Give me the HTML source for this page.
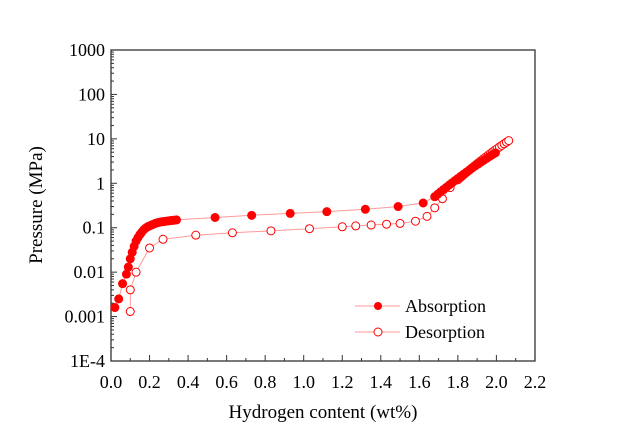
<!DOCTYPE html>
<html><head><meta charset="utf-8"><style>
html,body{margin:0;padding:0;background:#fff;}
svg text{font-family:"Liberation Serif",serif;fill:#000;}
</style></head><body>
<svg id="s" width="622" height="433" viewBox="0 0 622 433" xmlns="http://www.w3.org/2000/svg">
<rect x="111" y="50" width="424" height="311" fill="none" stroke="#333" stroke-width="1.3"/>
<g id="ax"></g>
<g id="dat"></g>
<text x="42" y="205" font-size="19" text-anchor="middle" transform="rotate(-90 42 205)">Pressure (MPa)</text>
<text x="323" y="418" font-size="19" text-anchor="middle">Hydrogen content (wt%)</text>
<line x1="355" y1="306" x2="400" y2="306" stroke="#f99" stroke-width="1"/>
<circle cx="378" cy="306" r="4" fill="#f00"/>
<text x="405" y="312" font-size="18">Absorption</text>
<line x1="355" y1="332" x2="400" y2="332" stroke="#f99" stroke-width="1"/>
<circle cx="378" cy="332" r="4" fill="#fff" stroke="#f00"/>
<text x="405" y="338" font-size="18">Desorption</text>
</svg>
<script>
var NS="http://www.w3.org/2000/svg";
function X(w){return 111+w*192.7;}
function Y(p){return 50+(3-Math.log10(p))*44.43;}
function el(t,a,par,txt){var e=document.createElementNS(NS,t);for(var k in a)e.setAttribute(k,a[k]);if(txt)e.textContent=txt;par.appendChild(e);return e;}
var ax=document.getElementById('ax');
for(var i=0;i<=22;i++){var w=i/10,x=X(w),maj=i%2==0;
 el('line',{x1:x,y1:361,x2:x,y2:maj?355:358,stroke:'#333','stroke-width':1},ax);
 if(maj)el('text',{x:x,y:388,'font-size':18,'text-anchor':'middle'},ax,w.toFixed(1));}
var labs=['1E-4','0.001','0.01','0.1','1','10','100','1000'];
for(var d=-4;d<=3;d++){var y=Y(Math.pow(10,d));
 el('line',{x1:111,y1:y,x2:117,y2:y,stroke:'#333','stroke-width':1},ax);
 el('text',{x:105,y:y+6,'font-size':18,'text-anchor':'end'},ax,labs[d+4]);
 if(d<3)for(var m=2;m<10;m++){var yy=Y(m*Math.pow(10,d));el('line',{x1:111,y1:yy,x2:114,y2:yy,stroke:'#333','stroke-width':1},ax);}}
var ab=[[0.02,0.0016],[0.04,0.0025],[0.06,0.0055],[0.08,0.009],[0.09,0.013],[0.1,0.02],[0.11,0.028],[0.12,0.038],[0.13,0.05],[0.14,0.06],[0.15,0.07],[0.16,0.08],[0.17,0.09],[0.18,0.098],[0.19,0.105],[0.2,0.11],[0.21,0.115],[0.22,0.12],[0.23,0.125],[0.24,0.129],[0.25,0.132],[0.26,0.135],[0.27,0.137],[0.28,0.139],[0.29,0.141],[0.3,0.143],[0.31,0.145],[0.32,0.146],[0.33,0.148],[0.34,0.15],[0.54,0.17],[0.73,0.19],[0.93,0.21],[1.12,0.23],[1.32,0.26],[1.49,0.3],[1.62,0.36]];
for(var w=1.68;w<=2.0;w+=0.015){var t=(w-1.68)/0.32;ab.push([w,Math.pow(10,Math.log10(0.5)+t*(Math.log10(5)-Math.log10(0.5))+0.15*t*(1-t))]);}
var de=[[0.1,0.0013],[0.1,0.004],[0.13,0.01],[0.2,0.035],[0.27,0.055],[0.44,0.068],[0.63,0.077],[0.83,0.085],[1.03,0.095],[1.2,0.105],[1.27,0.11],[1.35,0.115],[1.43,0.12],[1.5,0.125],[1.58,0.14],[1.64,0.18],[1.68,0.28],[1.72,0.45],[1.76,0.8]];
for(var w=1.8;w<=2.071;w+=0.012){var t=(w-1.8)/0.27;de.push([w,Math.pow(10,Math.log10(1.2)+t*(Math.log10(9.5)-Math.log10(1.2))+0.12*t*(1-t))]);}
var g=document.getElementById('dat');
function series(d,fill){var pts=d.map(function(q){return X(q[0]).toFixed(1)+','+Y(q[1]).toFixed(1);}).join(' ');
 el('polyline',{points:pts,fill:'none',stroke:'#f99','stroke-width':1},g);
 d.forEach(function(q){el('circle',{cx:X(q[0]),cy:Y(q[1]),r:4,fill:fill?'#f00':'#fff',stroke:'#f00','stroke-width':1},g);});}
series(de,false);series(ab,true);
</script>
</body></html>
